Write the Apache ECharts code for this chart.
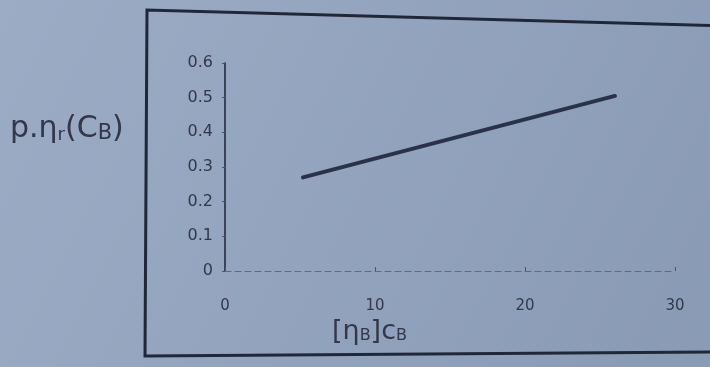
<!DOCTYPE html>
<html>
<head>
<meta charset="utf-8">
<script src="https://cdn.jsdelivr.net/npm/echarts@6/dist/echarts.min.js"></script>
<style>
html,body{margin:0;padding:0;background:#93a3bd;}
#c{width:710px;height:367px;}
</style>
</head>
<body>
<div id="c"></div>
<script>
const xTicks = [0, 10, 20, 30];
const yTicks = [0, 0.1, 0.2, 0.3, 0.4, 0.5, 0.6];
const xValues = [5.2, 26.0];
const yValues = [0.27, 0.505];

const chart = echarts.init(document.getElementById('c'));
const font = 'DejaVu Sans, Liberation Sans, sans-serif';
const textColor = '#323849';

chart.setOption({
  animation: false,
  backgroundColor: {
    type: 'linear', x: 0, y: 0, x2: 1, y2: 1,
    colorStops: [{offset: 0, color: '#9cacc5'}, {offset: 1, color: '#899ab5'}]
  },
  grid: {left: 225, right: 35, top: 63, bottom: 96},
  xAxis: {
    type: 'value', min: xTicks[0], max: xTicks[xTicks.length - 1], interval: 10,
    axisLine: {show: true, lineStyle: {color: '#5f6b86', width: 1.2, type: [6, 4]}},
    axisTick: {show: true, inside: true, length: 4, lineStyle: {color: '#4a5570'}},
    splitLine: {show: false},
    axisLabel: {margin: 28, fontSize: 15, color: textColor, fontFamily: font}
  },
  yAxis: {
    type: 'value', min: yTicks[0], max: yTicks[yTicks.length - 1], interval: 0.1,
    axisLine: {show: true, lineStyle: {color: '#232b3e', width: 1.6}},
    axisTick: {show: true, length: 3, lineStyle: {color: '#4a5570'}},
    splitLine: {show: false},
    axisLabel: {margin: 12, fontSize: 16, color: textColor, fontFamily: font,
      formatter: v => (Math.round(v * 10) / 10).toString()}
  },
  graphic: [
    {type: 'polyline', z: 10, shape: {points: [[732, 26], [147, 10], [145, 356], [710, 352]]},
      style: {stroke: '#1f2739', lineWidth: 3, fill: null}},
    {type: 'text', left: 10, top: 114, z: 10,
      style: {
        text: '{a|p.η}{r|r}{a|(C}{s|B}{a|)}',
        rich: {
          a: {fontSize: 30, fill: textColor, fontFamily: font},
          r: {fontSize: 18, fill: textColor, fontFamily: font, padding: [13, 0, 0, 0]},
          s: {fontSize: 21, fill: textColor, fontFamily: font, padding: [9, 0, 0, 0]}
        }
      }},
    {type: 'text', left: 332, top: 318, z: 10,
      style: {
        text: '{a|[η}{s|B}{a|]c}{s|B}',
        rich: {
          a: {fontSize: 27, fill: textColor, fontFamily: font},
          s: {fontSize: 16, fill: textColor, fontFamily: font, padding: [9, 0, 0, 0]}
        }
      }}
  ],
  series: [{
    type: 'line',
    data: xValues.map((x, i) => [x, yValues[i]]),
    symbol: 'none',
    lineStyle: {color: '#2a3249', width: 4, cap: 'round'}
  }]
});
</script>
</body>
</html>
